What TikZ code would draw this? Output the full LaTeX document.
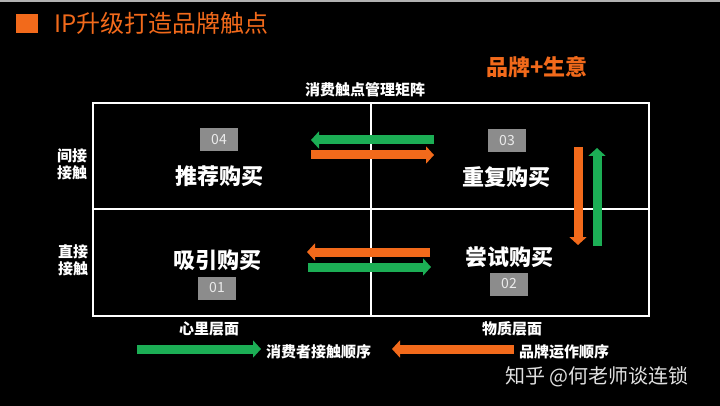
\documentclass[tikz,border=0pt]{standalone}
\usepackage{fontspec}
\setmainfont{Noto Sans CJK SC}
\usetikzlibrary{arrows.meta}
\definecolor{org}{HTML}{F26A1B}
\definecolor{grn}{HTML}{1CAE55}
\definecolor{boxg}{HTML}{8C8C8C}
\tikzset{
  lab/.style={text=white,font=\bfseries\fontsize{15}{17}\selectfont,inner sep=0pt,align=center},
  big/.style={text=white,font=\bfseries\fontsize{22}{24}\selectfont,inner sep=0pt},
  num/.style={fill=boxg,text=white!92!black,minimum width=38pt,minimum height=23pt,inner sep=0pt,font=\fontsize{14}{16}\selectfont},
  harrow/.style={line width=9pt,-{Triangle[width=17pt,length=8pt]}},
  grid/.style={draw=white,line width=1.5pt}
}
\begin{document}
\begin{tikzpicture}[x=1pt,y=-1pt]
\useasboundingbox (0,0) rectangle (720,406);
\fill[black] (0,0) rectangle (720,406);
\fill[gray!60] (0,0) rectangle (720,2);
% title
\fill[org] (16,14) rectangle (38,33);
\node[anchor=west,text=org,font=\fontsize{24}{26}\selectfont,inner sep=0pt] (title) at (54,23) {IP升级打造品牌触点};
\node[text=org,font=\bfseries\fontsize{22}{24}\selectfont,inner sep=0pt] (bs) at (537,67) {品牌+生意};
\node[lab] (mt) at (365,90) {消费触点管理矩阵};
% matrix
\draw[grid] (93,103) rectangle (649,316);
\draw[grid] (371,103) -- (371,316);
\draw[grid] (93,209) -- (649,209);
% side labels
\node[lab] (l1) at (72,164) {间接\\接触};
\node[lab] (l2) at (73,260) {直接\\接触};
% cells
\node[num] (n4) at (219,140) {04};
\node[big] (c4) at (219,176) {推荐购买};
\node[num] (n3) at (507,141) {03};
\node[big] (c3) at (506,177) {重复购买};
\node[big] (c2) at (509,257) {尝试购买};
\node[num] (n2) at (509,284) {02};
\node[big] (c1) at (217,260) {吸引购买};
\node[num] (n1) at (217,288) {01};
% arrow coordinates
\coordinate (g1a) at (434,140); \coordinate (g1b) at (311,140);
\coordinate (o1a) at (311,155); \coordinate (o1b) at (434,155);
\coordinate (o2a) at (430,252); \coordinate (o2b) at (307,252);
\coordinate (g2a) at (308,267); \coordinate (g2b) at (431,267);
\coordinate (ova) at (578,147); \coordinate (ovb) at (578,245);
\coordinate (gva) at (597,246); \coordinate (gvb) at (597,148);
\draw[harrow,grn] (g1a) -- (g1b);
\draw[harrow,org] (o1a) -- (o1b);
\draw[harrow,org] (o2a) -- (o2b);
\draw[harrow,grn] (g2a) -- (g2b);
\draw[harrow,org] (ova) -- (ovb);
\draw[harrow,grn] (gva) -- (gvb);
% bottom
\node[lab] (b1) at (209,329) {心里层面};
\node[lab] (b2) at (512,329) {物质层面};
\node[lab,anchor=west] (t1) at (266,352) {消费者接触顺序};
\node[lab,anchor=west] (t2) at (519,352) {品牌运作顺序};
\coordinate (gba) at (137,349);
\coordinate (gbb) at (261,349);
\coordinate (oba) at (514,349);
\coordinate (obb) at (392,349);
\draw[harrow,grn] (gba) -- (gbb);
\draw[harrow,org] (oba) -- (obb);
\node[text=white!88!black,font=\fontsize{20}{22}\selectfont,inner sep=0pt,anchor=west] (wm) at (505,377) {知乎 @何老师谈连锁};
\end{tikzpicture}
\end{document}
